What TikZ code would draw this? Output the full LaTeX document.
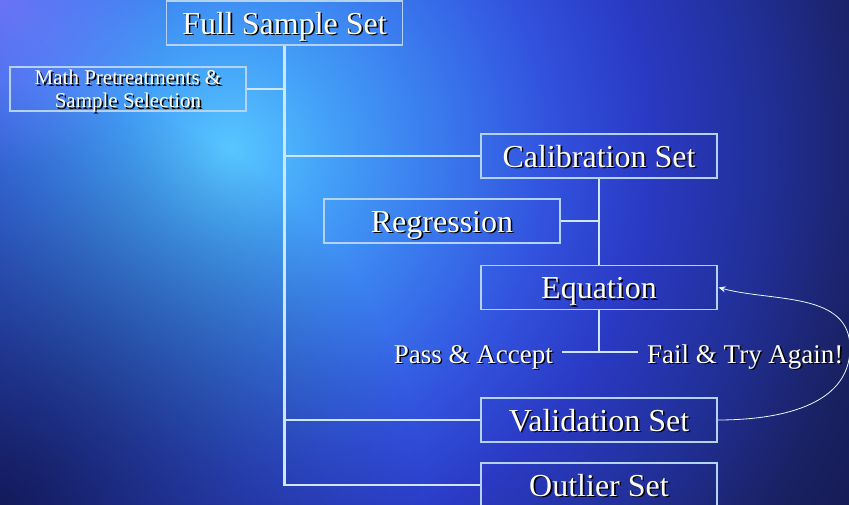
\documentclass[tikz,border=0pt]{standalone}
\usepackage{fontspec}
\setmainfont{Liberation Serif}
\usetikzlibrary{arrows.meta,fadings}
\definecolor{lineblue}{HTML}{CFE6FF}
\definecolor{boxline}{HTML}{B4D2F6}
\definecolor{bgA}{HTML}{58C6FF}
\definecolor{bgB}{HTML}{44A2F8}
\definecolor{bgC}{HTML}{3A7AEE}
\definecolor{bgD}{HTML}{3252DE}
\definecolor{bgE}{HTML}{2A3AC4}
\definecolor{bgF}{HTML}{22309A}
\definecolor{bgG}{HTML}{1A2266}
\definecolor{bgH}{HTML}{101440}
\definecolor{darkcorner}{HTML}{0A0E30}
\definecolor{purplecorner}{HTML}{8C80FF}
\pgfdeclareradialshading{bgshade}{\pgfpoint{0bp}{0bp}}{%
 color(0bp)=(bgA); color(3bp)=(bgB); color(6.5bp)=(bgC); color(10bp)=(bgD);
 color(13bp)=(bgE); color(16.5bp)=(bgF); color(20bp)=(bgG); color(25bp)=(bgH); color(50bp)=(bgH)}
\tikzfading[name=softfade, inner color=transparent!0, outer color=transparent!100]
\newcommand\shtext[1]{\rlap{\raisebox{-1.6pt}{\hspace{1.6pt}\color{black}#1}}#1}
\tikzset{
 box/.style={draw=boxline, line width=1.1pt, minimum width=236pt, minimum height=44pt, inner sep=0pt, text=white, font=\fontsize{32}{36}\selectfont, text height=22pt, text depth=0pt},
 smallbox/.style={draw=boxline, line width=1.1pt, minimum width=236pt, minimum height=44pt, inner sep=0pt, text=white, font=\fontsize{21}{23}\selectfont, align=center, text height=37pt, text depth=0pt},
 lbl/.style={text=white, font=\fontsize{27}{30}\selectfont, inner sep=0pt},
 conn/.style={draw=lineblue, line width=2.6pt},
 loopline/.style={draw=white!90!cyan, line width=0.8pt, -{Stealth[length=7pt,width=6pt]}}
}
\begin{document}
\begin{tikzpicture}[x=1pt,y=-1pt]
\useasboundingbox (0,0) rectangle (849,504);
\begin{scope}
\clip (0,0) rectangle (849,504);
\shade[shading=bgshade] (230,150) circle (800pt);
\fill[darkcorner, path fading=softfade, fill opacity=0.7] (0,504) circle (420pt);
\fill[purplecorner, path fading=softfade, fill opacity=0.6] (0,0) circle (170pt);
\end{scope}
% nodes
\node[box] (full) at (284.5,23) {\shtext{Full Sample Set}};
\node[smallbox] (math) at (128,89) {\shtext{Math Pretreatments \&}\\\shtext{Sample Selection}};
\node[box] (calib) at (599,156) {\shtext{Calibration Set}};
\node[box] (reg) at (442,221) {\shtext{Regression}};
\node[box] (eq) at (599,287.5) {\shtext{Equation}};
\node[box] (val) at (599,420) {\shtext{Validation Set}};
\node[box] (outl) at (599,485) {\shtext{Outlier Set}};
\coordinate (j) at (599,352);
\node[lbl, anchor=base east] (pass) at (553,363) {\shtext{Pass \& Accept}};
\node[lbl, anchor=base west] (fail) at (647,363) {\shtext{Fail \& Try Again!}};
% connectors
\draw[conn] (full.south) |- (outl.west);
\draw[conn] (math.east) -- (math.east -| full.south);
\draw[conn] (calib.west) -- (calib.west -| full.south);
\draw[conn] (val.west) -- (val.west -| full.south);
\draw[conn] (calib.south) -- (eq.north);
\draw[conn] (reg.east) -- (reg.east -| calib.south);
\draw[conn] (eq.south) -- (j);
\draw[conn] ([xshift=9pt]pass.east |- j) -- ([xshift=-9pt]fail.west |- j);
\draw[loopline] (val.east) to[out=0, in=-90] (850,348) to[out=90, in=-15] ([xshift=1pt]eq.east);
\end{tikzpicture}
\end{document}
